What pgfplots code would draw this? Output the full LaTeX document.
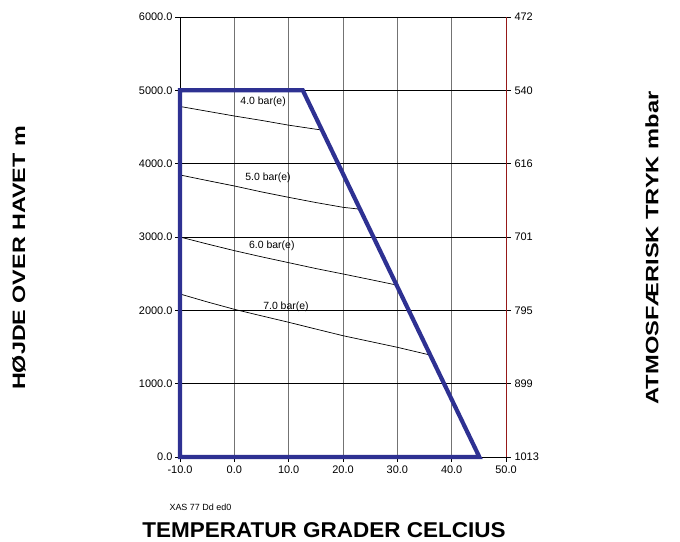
\documentclass[border=0pt]{standalone}
\usepackage{fontspec}
\setmainfont{Liberation Sans}
\usepackage{graphicx}
\usepackage{pgfplots}
\pgfplotsset{compat=1.18}
\definecolor{navy}{RGB}{46,49,146}
\definecolor{dred}{RGB}{150,25,25}
\begin{document}
\begin{tikzpicture}
\useasboundingbox (0,0) rectangle (680bp,542bp);
\begin{axis}[
  at={(180bp,85bp)}, anchor=south west,
  scale only axis, width=326bp, height=440bp,
  xmin=-10, xmax=50, ymin=0, ymax=6000,
  xtick={-10,0,...,50}, ytick={0,1000,...,6000},
  tick pos=left, tick align=outside,
  major tick length=5bp,
  tick style={black, line width=0.6bp},
  grid=major,
  x grid style={black!55, line width=0.7bp},
  y grid style={black, line width=0.7bp},
  axis line style={black, line width=0.7bp},
  ticklabel style={font=\fontsize{11}{13}\selectfont},
  /pgf/number format/assume math mode=true,
  /pgf/number format/.cd, fixed, fixed zerofill, precision=1, 1000 sep={},
  /pgfplots/.cd,
  yticklabel style={xshift=1bp},
  clip=false,
]
\addplot[black, line width=0.7bp] coordinates {(-10,4780) (-5,4715) (0,4650) (5,4590) (10,4525) (15,4470) (16.0,4460)};
\addplot[black, line width=0.7bp] coordinates {(-10,3846) (-5,3770) (0,3696) (5,3615) (10,3541) (15,3470) (20,3405) (23.0,3380)};
\addplot[black, line width=0.7bp] coordinates {(-10,3000) (-5,2905) (0,2814) (5,2730) (10,2650) (15,2570) (20,2496) (25,2420) (29.8,2346)};
\addplot[black, line width=0.7bp] coordinates {(-10,2223) (-5,2115) (0,2014) (5,1925) (10,1837) (15,1745) (20,1654) (25,1575) (30,1496) (36.0,1391)};
\addplot[navy, line width=4.2bp, line join=miter] coordinates {(-10,0) (-10,5000) (12.6,5000) (45.1,0) (-10,0) (-10,500)};
\node[font=\fontsize{10.5}{12}\selectfont] at (axis cs:5.3,4845) {4.0 bar(e)};
\node[font=\fontsize{10.5}{12}\selectfont] at (axis cs:6.2,3814) {5.0 bar(e)};
\node[font=\fontsize{10.5}{12}\selectfont] at (axis cs:6.9,2882) {6.0 bar(e)};
\node[font=\fontsize{10.5}{12}\selectfont] at (axis cs:9.5,2050) {7.0 bar(e)};
\end{axis}
\begin{axis}[
  at={(180bp,85bp)}, anchor=south west,
  scale only axis, width=326bp, height=440bp,
  xmin=-10, xmax=50, ymin=0, ymax=6000,
  axis x line=none, axis y line*=right,
  y axis line style={-, draw=dred, line width=0.7bp},
  ytick={0,1000,...,6000},
  yticklabels={1013,899,795,701,616,540,472},
  tick align=outside, major tick length=5bp,
  tick style={black, line width=0.6bp},
  ticklabel style={font=\fontsize{11}{13}\selectfont},
]
\end{axis}
\node[rotate=90, font=\bfseries\fontsize{18}{21}\selectfont] at (19bp,284bp) {\scalebox{1.3}[1]{HØJDE OVER HAVET m}};
\node[rotate=90, font=\bfseries\fontsize{18}{21}\selectfont] at (652bp,294bp) {\scalebox{1.32}[1]{ATMOSFÆRISK TRYK mbar}};
\node[font=\bfseries\fontsize{21.5}{25}\selectfont] at (324bp,12bp) {\scalebox{1.05}[1]{TEMPERATUR GRADER CELCIUS}};
\node[anchor=west, font=\fontsize{9}{11}\selectfont] at (166bp,35bp) {XAS 77 Dd ed0};
\end{tikzpicture}
\end{document}
